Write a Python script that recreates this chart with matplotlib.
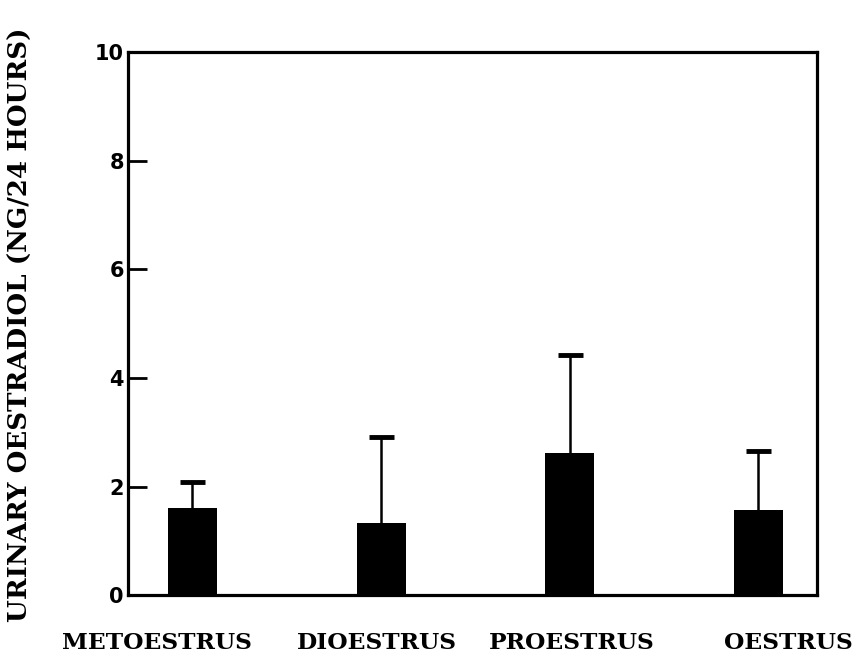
import numpy as np
import matplotlib.pyplot as plt

stages = ['METOESTRUS', 'DIOESTRUS', 'PROESTRUS', 'OESTRUS']
oestradiol = [1.60, 1.33, 2.61, 1.57]
sem = [0.48, 1.58, 1.81, 1.08]

x = np.arange(len(stages))
label_x = [-0.19, 0.98, 2.01, 3.16]

fig = plt.figure(figsize=(8.6, 6.62), dpi=100)
ax = fig.add_axes([0.149, 0.101, 0.801, 0.820])

ax.bar(x, oestradiol, width=0.26, color='black')
# upper error bars only
_, caps, _ = ax.errorbar(x, oestradiol, yerr=[np.zeros(len(sem)), sem], fmt='none',
                         ecolor='black', elinewidth=1.8, capsize=9, capthick=3.5)
caps[0].set_visible(False)

ax.set_xlim(-0.34, 3.31)
ax.set_ylim(0, 10)
ax.set_yticks([0, 2, 4, 6, 8, 10])
ax.set_xticks([])
ax.tick_params(axis='y', direction='in', length=14, width=2, pad=3)
for lab in ax.get_yticklabels():
    lab.set_fontfamily('DejaVu Sans')
    lab.set_fontweight('bold')
    lab.set_fontsize(15)

for s in ax.spines.values():
    s.set_linewidth(2.3)

for lx, name in zip(label_x, stages):
    ax.text(lx, -0.68, name, ha='center', va='top', family='DejaVu Serif',
            fontweight='bold', fontsize=16.8)

fig.text(0.024, 0.51, 'URINARY OESTRADIOL (NG/24 HOURS)', rotation=90,
         ha='center', va='center', family='DejaVu Serif',
         fontweight='bold', fontsize=18.8)

fig.savefig('out.png', dpi=100)
